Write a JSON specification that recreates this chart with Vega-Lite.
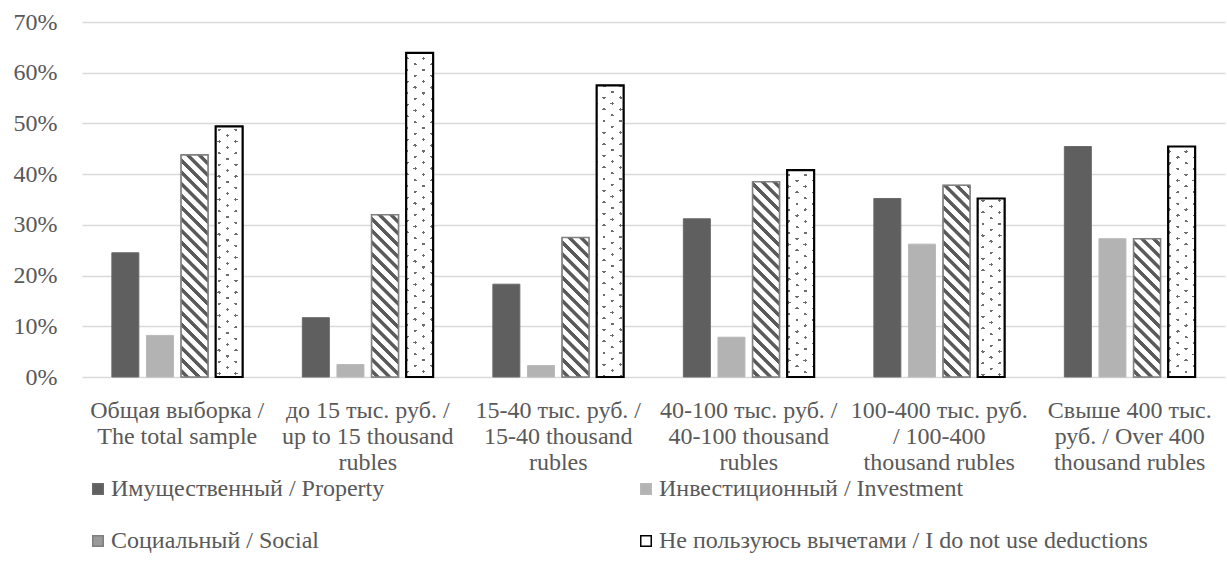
{
  "$schema": "https://vega.github.io/schema/vega-lite/v6.json",
  "width": 1143,
  "height": 355,
  "autosize": {"type": "none"},
  "padding": {"left": 82, "top": 22, "right": 2, "bottom": 204},
  "background": "white",
  "config": {
    "font": "Liberation Serif",
    "view": {"stroke": null},
    "axis": {"labelFont": "Liberation Serif", "labelColor": "#595959", "labelFontSize": 24, "domain": false, "ticks": false},
    "legend": {"labelFont": "Liberation Serif"}
  },
  "params": [
    {"name": "hatchStops", "value": [
      {"offset": 0.01208, "color": "#ffffff"}, {"offset": 0.01508, "color": "#5a5a5a"}, {"offset": 0.02958, "color": "#5a5a5a"}, {"offset": 0.03258, "color": "#ffffff"},
      {"offset": 0.05375, "color": "#ffffff"}, {"offset": 0.05675, "color": "#5a5a5a"}, {"offset": 0.07125, "color": "#5a5a5a"}, {"offset": 0.07425, "color": "#ffffff"},
      {"offset": 0.09542, "color": "#ffffff"}, {"offset": 0.09842, "color": "#5a5a5a"}, {"offset": 0.11292, "color": "#5a5a5a"}, {"offset": 0.11592, "color": "#ffffff"},
      {"offset": 0.13708, "color": "#ffffff"}, {"offset": 0.14008, "color": "#5a5a5a"}, {"offset": 0.15458, "color": "#5a5a5a"}, {"offset": 0.15758, "color": "#ffffff"},
      {"offset": 0.17875, "color": "#ffffff"}, {"offset": 0.18175, "color": "#5a5a5a"}, {"offset": 0.19625, "color": "#5a5a5a"}, {"offset": 0.19925, "color": "#ffffff"},
      {"offset": 0.22042, "color": "#ffffff"}, {"offset": 0.22342, "color": "#5a5a5a"}, {"offset": 0.23792, "color": "#5a5a5a"}, {"offset": 0.24092, "color": "#ffffff"},
      {"offset": 0.26208, "color": "#ffffff"}, {"offset": 0.26508, "color": "#5a5a5a"}, {"offset": 0.27958, "color": "#5a5a5a"}, {"offset": 0.28258, "color": "#ffffff"},
      {"offset": 0.30375, "color": "#ffffff"}, {"offset": 0.30675, "color": "#5a5a5a"}, {"offset": 0.32125, "color": "#5a5a5a"}, {"offset": 0.32425, "color": "#ffffff"},
      {"offset": 0.34542, "color": "#ffffff"}, {"offset": 0.34842, "color": "#5a5a5a"}, {"offset": 0.36292, "color": "#5a5a5a"}, {"offset": 0.36592, "color": "#ffffff"},
      {"offset": 0.38708, "color": "#ffffff"}, {"offset": 0.39008, "color": "#5a5a5a"}, {"offset": 0.40458, "color": "#5a5a5a"}, {"offset": 0.40758, "color": "#ffffff"},
      {"offset": 0.42875, "color": "#ffffff"}, {"offset": 0.43175, "color": "#5a5a5a"}, {"offset": 0.44625, "color": "#5a5a5a"}, {"offset": 0.44925, "color": "#ffffff"},
      {"offset": 0.47042, "color": "#ffffff"}, {"offset": 0.47342, "color": "#5a5a5a"}, {"offset": 0.48792, "color": "#5a5a5a"}, {"offset": 0.49092, "color": "#ffffff"},
      {"offset": 0.51208, "color": "#ffffff"}, {"offset": 0.51508, "color": "#5a5a5a"}, {"offset": 0.52958, "color": "#5a5a5a"}, {"offset": 0.53258, "color": "#ffffff"},
      {"offset": 0.55375, "color": "#ffffff"}, {"offset": 0.55675, "color": "#5a5a5a"}, {"offset": 0.57125, "color": "#5a5a5a"}, {"offset": 0.57425, "color": "#ffffff"},
      {"offset": 0.59542, "color": "#ffffff"}, {"offset": 0.59842, "color": "#5a5a5a"}, {"offset": 0.61292, "color": "#5a5a5a"}, {"offset": 0.61592, "color": "#ffffff"},
      {"offset": 0.63708, "color": "#ffffff"}, {"offset": 0.64008, "color": "#5a5a5a"}, {"offset": 0.65458, "color": "#5a5a5a"}, {"offset": 0.65758, "color": "#ffffff"},
      {"offset": 0.67875, "color": "#ffffff"}, {"offset": 0.68175, "color": "#5a5a5a"}, {"offset": 0.69625, "color": "#5a5a5a"}, {"offset": 0.69925, "color": "#ffffff"},
      {"offset": 0.72042, "color": "#ffffff"}, {"offset": 0.72342, "color": "#5a5a5a"}, {"offset": 0.73792, "color": "#5a5a5a"}, {"offset": 0.74092, "color": "#ffffff"},
      {"offset": 0.76208, "color": "#ffffff"}, {"offset": 0.76508, "color": "#5a5a5a"}, {"offset": 0.77958, "color": "#5a5a5a"}, {"offset": 0.78258, "color": "#ffffff"},
      {"offset": 0.80375, "color": "#ffffff"}, {"offset": 0.80675, "color": "#5a5a5a"}, {"offset": 0.82125, "color": "#5a5a5a"}, {"offset": 0.82425, "color": "#ffffff"},
      {"offset": 0.84542, "color": "#ffffff"}, {"offset": 0.84842, "color": "#5a5a5a"}, {"offset": 0.86292, "color": "#5a5a5a"}, {"offset": 0.86592, "color": "#ffffff"},
      {"offset": 0.88708, "color": "#ffffff"}, {"offset": 0.89008, "color": "#5a5a5a"}, {"offset": 0.90458, "color": "#5a5a5a"}, {"offset": 0.90758, "color": "#ffffff"},
      {"offset": 0.92875, "color": "#ffffff"}, {"offset": 0.93175, "color": "#5a5a5a"}, {"offset": 0.94625, "color": "#5a5a5a"}, {"offset": 0.94925, "color": "#ffffff"},
      {"offset": 0.97042, "color": "#ffffff"}, {"offset": 0.97342, "color": "#5a5a5a"}, {"offset": 0.98792, "color": "#5a5a5a"}, {"offset": 0.99092, "color": "#ffffff"}
    ]},
    {"name": "dotStops", "value": [
      {"offset": 0.0123, "color": "rgba(110,110,110,0)"}, {"offset": 0.0123, "color": "#6e6e6e"}, {"offset": 0.0198, "color": "#6e6e6e"}, {"offset": 0.0198, "color": "rgba(110,110,110,0)"},
      {"offset": 0.0436, "color": "rgba(110,110,110,0)"}, {"offset": 0.0436, "color": "#6e6e6e"}, {"offset": 0.0511, "color": "#6e6e6e"}, {"offset": 0.0511, "color": "rgba(110,110,110,0)"},
      {"offset": 0.0748, "color": "rgba(110,110,110,0)"}, {"offset": 0.0748, "color": "#6e6e6e"}, {"offset": 0.0823, "color": "#6e6e6e"}, {"offset": 0.0823, "color": "rgba(110,110,110,0)"},
      {"offset": 0.1061, "color": "rgba(110,110,110,0)"}, {"offset": 0.1061, "color": "#6e6e6e"}, {"offset": 0.1136, "color": "#6e6e6e"}, {"offset": 0.1136, "color": "rgba(110,110,110,0)"},
      {"offset": 0.1373, "color": "rgba(110,110,110,0)"}, {"offset": 0.1373, "color": "#6e6e6e"}, {"offset": 0.1448, "color": "#6e6e6e"}, {"offset": 0.1448, "color": "rgba(110,110,110,0)"},
      {"offset": 0.1686, "color": "rgba(110,110,110,0)"}, {"offset": 0.1686, "color": "#6e6e6e"}, {"offset": 0.1761, "color": "#6e6e6e"}, {"offset": 0.1761, "color": "rgba(110,110,110,0)"},
      {"offset": 0.1998, "color": "rgba(110,110,110,0)"}, {"offset": 0.1998, "color": "#6e6e6e"}, {"offset": 0.2073, "color": "#6e6e6e"}, {"offset": 0.2073, "color": "rgba(110,110,110,0)"},
      {"offset": 0.2311, "color": "rgba(110,110,110,0)"}, {"offset": 0.2311, "color": "#6e6e6e"}, {"offset": 0.2386, "color": "#6e6e6e"}, {"offset": 0.2386, "color": "rgba(110,110,110,0)"},
      {"offset": 0.2623, "color": "rgba(110,110,110,0)"}, {"offset": 0.2623, "color": "#6e6e6e"}, {"offset": 0.2698, "color": "#6e6e6e"}, {"offset": 0.2698, "color": "rgba(110,110,110,0)"},
      {"offset": 0.2936, "color": "rgba(110,110,110,0)"}, {"offset": 0.2936, "color": "#6e6e6e"}, {"offset": 0.3011, "color": "#6e6e6e"}, {"offset": 0.3011, "color": "rgba(110,110,110,0)"},
      {"offset": 0.3248, "color": "rgba(110,110,110,0)"}, {"offset": 0.3248, "color": "#6e6e6e"}, {"offset": 0.3323, "color": "#6e6e6e"}, {"offset": 0.3323, "color": "rgba(110,110,110,0)"},
      {"offset": 0.3561, "color": "rgba(110,110,110,0)"}, {"offset": 0.3561, "color": "#6e6e6e"}, {"offset": 0.3636, "color": "#6e6e6e"}, {"offset": 0.3636, "color": "rgba(110,110,110,0)"},
      {"offset": 0.3873, "color": "rgba(110,110,110,0)"}, {"offset": 0.3873, "color": "#6e6e6e"}, {"offset": 0.3948, "color": "#6e6e6e"}, {"offset": 0.3948, "color": "rgba(110,110,110,0)"},
      {"offset": 0.4186, "color": "rgba(110,110,110,0)"}, {"offset": 0.4186, "color": "#6e6e6e"}, {"offset": 0.4261, "color": "#6e6e6e"}, {"offset": 0.4261, "color": "rgba(110,110,110,0)"},
      {"offset": 0.4498, "color": "rgba(110,110,110,0)"}, {"offset": 0.4498, "color": "#6e6e6e"}, {"offset": 0.4573, "color": "#6e6e6e"}, {"offset": 0.4573, "color": "rgba(110,110,110,0)"},
      {"offset": 0.4811, "color": "rgba(110,110,110,0)"}, {"offset": 0.4811, "color": "#6e6e6e"}, {"offset": 0.4886, "color": "#6e6e6e"}, {"offset": 0.4886, "color": "rgba(110,110,110,0)"},
      {"offset": 0.5123, "color": "rgba(110,110,110,0)"}, {"offset": 0.5123, "color": "#6e6e6e"}, {"offset": 0.5198, "color": "#6e6e6e"}, {"offset": 0.5198, "color": "rgba(110,110,110,0)"},
      {"offset": 0.5436, "color": "rgba(110,110,110,0)"}, {"offset": 0.5436, "color": "#6e6e6e"}, {"offset": 0.5511, "color": "#6e6e6e"}, {"offset": 0.5511, "color": "rgba(110,110,110,0)"},
      {"offset": 0.5748, "color": "rgba(110,110,110,0)"}, {"offset": 0.5748, "color": "#6e6e6e"}, {"offset": 0.5823, "color": "#6e6e6e"}, {"offset": 0.5823, "color": "rgba(110,110,110,0)"},
      {"offset": 0.6061, "color": "rgba(110,110,110,0)"}, {"offset": 0.6061, "color": "#6e6e6e"}, {"offset": 0.6136, "color": "#6e6e6e"}, {"offset": 0.6136, "color": "rgba(110,110,110,0)"},
      {"offset": 0.6373, "color": "rgba(110,110,110,0)"}, {"offset": 0.6373, "color": "#6e6e6e"}, {"offset": 0.6448, "color": "#6e6e6e"}, {"offset": 0.6448, "color": "rgba(110,110,110,0)"},
      {"offset": 0.6686, "color": "rgba(110,110,110,0)"}, {"offset": 0.6686, "color": "#6e6e6e"}, {"offset": 0.6761, "color": "#6e6e6e"}, {"offset": 0.6761, "color": "rgba(110,110,110,0)"},
      {"offset": 0.6998, "color": "rgba(110,110,110,0)"}, {"offset": 0.6998, "color": "#6e6e6e"}, {"offset": 0.7073, "color": "#6e6e6e"}, {"offset": 0.7073, "color": "rgba(110,110,110,0)"},
      {"offset": 0.7311, "color": "rgba(110,110,110,0)"}, {"offset": 0.7311, "color": "#6e6e6e"}, {"offset": 0.7386, "color": "#6e6e6e"}, {"offset": 0.7386, "color": "rgba(110,110,110,0)"},
      {"offset": 0.7623, "color": "rgba(110,110,110,0)"}, {"offset": 0.7623, "color": "#6e6e6e"}, {"offset": 0.7698, "color": "#6e6e6e"}, {"offset": 0.7698, "color": "rgba(110,110,110,0)"},
      {"offset": 0.7936, "color": "rgba(110,110,110,0)"}, {"offset": 0.7936, "color": "#6e6e6e"}, {"offset": 0.8011, "color": "#6e6e6e"}, {"offset": 0.8011, "color": "rgba(110,110,110,0)"},
      {"offset": 0.8248, "color": "rgba(110,110,110,0)"}, {"offset": 0.8248, "color": "#6e6e6e"}, {"offset": 0.8323, "color": "#6e6e6e"}, {"offset": 0.8323, "color": "rgba(110,110,110,0)"},
      {"offset": 0.8561, "color": "rgba(110,110,110,0)"}, {"offset": 0.8561, "color": "#6e6e6e"}, {"offset": 0.8636, "color": "#6e6e6e"}, {"offset": 0.8636, "color": "rgba(110,110,110,0)"},
      {"offset": 0.8873, "color": "rgba(110,110,110,0)"}, {"offset": 0.8873, "color": "#6e6e6e"}, {"offset": 0.8948, "color": "#6e6e6e"}, {"offset": 0.8948, "color": "rgba(110,110,110,0)"},
      {"offset": 0.9186, "color": "rgba(110,110,110,0)"}, {"offset": 0.9186, "color": "#6e6e6e"}, {"offset": 0.9261, "color": "#6e6e6e"}, {"offset": 0.9261, "color": "rgba(110,110,110,0)"},
      {"offset": 0.9498, "color": "rgba(110,110,110,0)"}, {"offset": 0.9498, "color": "#6e6e6e"}, {"offset": 0.9573, "color": "#6e6e6e"}, {"offset": 0.9573, "color": "rgba(110,110,110,0)"},
      {"offset": 0.9811, "color": "rgba(110,110,110,0)"}, {"offset": 0.9811, "color": "#6e6e6e"}, {"offset": 0.9886, "color": "#6e6e6e"}, {"offset": 0.9886, "color": "rgba(110,110,110,0)"}
    ]},
    {"name": "maskStops", "value": [
      {"offset": 0.0123, "color": "#ffffff"}, {"offset": 0.0123, "color": "rgba(255,255,255,0)"}, {"offset": 0.0198, "color": "rgba(255,255,255,0)"}, {"offset": 0.0198, "color": "#ffffff"},
      {"offset": 0.0436, "color": "#ffffff"}, {"offset": 0.0436, "color": "rgba(255,255,255,0)"}, {"offset": 0.0511, "color": "rgba(255,255,255,0)"}, {"offset": 0.0511, "color": "#ffffff"},
      {"offset": 0.0748, "color": "#ffffff"}, {"offset": 0.0748, "color": "rgba(255,255,255,0)"}, {"offset": 0.0823, "color": "rgba(255,255,255,0)"}, {"offset": 0.0823, "color": "#ffffff"},
      {"offset": 0.1061, "color": "#ffffff"}, {"offset": 0.1061, "color": "rgba(255,255,255,0)"}, {"offset": 0.1136, "color": "rgba(255,255,255,0)"}, {"offset": 0.1136, "color": "#ffffff"},
      {"offset": 0.1373, "color": "#ffffff"}, {"offset": 0.1373, "color": "rgba(255,255,255,0)"}, {"offset": 0.1448, "color": "rgba(255,255,255,0)"}, {"offset": 0.1448, "color": "#ffffff"},
      {"offset": 0.1686, "color": "#ffffff"}, {"offset": 0.1686, "color": "rgba(255,255,255,0)"}, {"offset": 0.1761, "color": "rgba(255,255,255,0)"}, {"offset": 0.1761, "color": "#ffffff"},
      {"offset": 0.1998, "color": "#ffffff"}, {"offset": 0.1998, "color": "rgba(255,255,255,0)"}, {"offset": 0.2073, "color": "rgba(255,255,255,0)"}, {"offset": 0.2073, "color": "#ffffff"},
      {"offset": 0.2311, "color": "#ffffff"}, {"offset": 0.2311, "color": "rgba(255,255,255,0)"}, {"offset": 0.2386, "color": "rgba(255,255,255,0)"}, {"offset": 0.2386, "color": "#ffffff"},
      {"offset": 0.2623, "color": "#ffffff"}, {"offset": 0.2623, "color": "rgba(255,255,255,0)"}, {"offset": 0.2698, "color": "rgba(255,255,255,0)"}, {"offset": 0.2698, "color": "#ffffff"},
      {"offset": 0.2936, "color": "#ffffff"}, {"offset": 0.2936, "color": "rgba(255,255,255,0)"}, {"offset": 0.3011, "color": "rgba(255,255,255,0)"}, {"offset": 0.3011, "color": "#ffffff"},
      {"offset": 0.3248, "color": "#ffffff"}, {"offset": 0.3248, "color": "rgba(255,255,255,0)"}, {"offset": 0.3323, "color": "rgba(255,255,255,0)"}, {"offset": 0.3323, "color": "#ffffff"},
      {"offset": 0.3561, "color": "#ffffff"}, {"offset": 0.3561, "color": "rgba(255,255,255,0)"}, {"offset": 0.3636, "color": "rgba(255,255,255,0)"}, {"offset": 0.3636, "color": "#ffffff"},
      {"offset": 0.3873, "color": "#ffffff"}, {"offset": 0.3873, "color": "rgba(255,255,255,0)"}, {"offset": 0.3948, "color": "rgba(255,255,255,0)"}, {"offset": 0.3948, "color": "#ffffff"},
      {"offset": 0.4186, "color": "#ffffff"}, {"offset": 0.4186, "color": "rgba(255,255,255,0)"}, {"offset": 0.4261, "color": "rgba(255,255,255,0)"}, {"offset": 0.4261, "color": "#ffffff"},
      {"offset": 0.4498, "color": "#ffffff"}, {"offset": 0.4498, "color": "rgba(255,255,255,0)"}, {"offset": 0.4573, "color": "rgba(255,255,255,0)"}, {"offset": 0.4573, "color": "#ffffff"},
      {"offset": 0.4811, "color": "#ffffff"}, {"offset": 0.4811, "color": "rgba(255,255,255,0)"}, {"offset": 0.4886, "color": "rgba(255,255,255,0)"}, {"offset": 0.4886, "color": "#ffffff"},
      {"offset": 0.5123, "color": "#ffffff"}, {"offset": 0.5123, "color": "rgba(255,255,255,0)"}, {"offset": 0.5198, "color": "rgba(255,255,255,0)"}, {"offset": 0.5198, "color": "#ffffff"},
      {"offset": 0.5436, "color": "#ffffff"}, {"offset": 0.5436, "color": "rgba(255,255,255,0)"}, {"offset": 0.5511, "color": "rgba(255,255,255,0)"}, {"offset": 0.5511, "color": "#ffffff"},
      {"offset": 0.5748, "color": "#ffffff"}, {"offset": 0.5748, "color": "rgba(255,255,255,0)"}, {"offset": 0.5823, "color": "rgba(255,255,255,0)"}, {"offset": 0.5823, "color": "#ffffff"},
      {"offset": 0.6061, "color": "#ffffff"}, {"offset": 0.6061, "color": "rgba(255,255,255,0)"}, {"offset": 0.6136, "color": "rgba(255,255,255,0)"}, {"offset": 0.6136, "color": "#ffffff"},
      {"offset": 0.6373, "color": "#ffffff"}, {"offset": 0.6373, "color": "rgba(255,255,255,0)"}, {"offset": 0.6448, "color": "rgba(255,255,255,0)"}, {"offset": 0.6448, "color": "#ffffff"},
      {"offset": 0.6686, "color": "#ffffff"}, {"offset": 0.6686, "color": "rgba(255,255,255,0)"}, {"offset": 0.6761, "color": "rgba(255,255,255,0)"}, {"offset": 0.6761, "color": "#ffffff"},
      {"offset": 0.6998, "color": "#ffffff"}, {"offset": 0.6998, "color": "rgba(255,255,255,0)"}, {"offset": 0.7073, "color": "rgba(255,255,255,0)"}, {"offset": 0.7073, "color": "#ffffff"},
      {"offset": 0.7311, "color": "#ffffff"}, {"offset": 0.7311, "color": "rgba(255,255,255,0)"}, {"offset": 0.7386, "color": "rgba(255,255,255,0)"}, {"offset": 0.7386, "color": "#ffffff"},
      {"offset": 0.7623, "color": "#ffffff"}, {"offset": 0.7623, "color": "rgba(255,255,255,0)"}, {"offset": 0.7698, "color": "rgba(255,255,255,0)"}, {"offset": 0.7698, "color": "#ffffff"},
      {"offset": 0.7936, "color": "#ffffff"}, {"offset": 0.7936, "color": "rgba(255,255,255,0)"}, {"offset": 0.8011, "color": "rgba(255,255,255,0)"}, {"offset": 0.8011, "color": "#ffffff"},
      {"offset": 0.8248, "color": "#ffffff"}, {"offset": 0.8248, "color": "rgba(255,255,255,0)"}, {"offset": 0.8323, "color": "rgba(255,255,255,0)"}, {"offset": 0.8323, "color": "#ffffff"},
      {"offset": 0.8561, "color": "#ffffff"}, {"offset": 0.8561, "color": "rgba(255,255,255,0)"}, {"offset": 0.8636, "color": "rgba(255,255,255,0)"}, {"offset": 0.8636, "color": "#ffffff"},
      {"offset": 0.8873, "color": "#ffffff"}, {"offset": 0.8873, "color": "rgba(255,255,255,0)"}, {"offset": 0.8948, "color": "rgba(255,255,255,0)"}, {"offset": 0.8948, "color": "#ffffff"},
      {"offset": 0.9186, "color": "#ffffff"}, {"offset": 0.9186, "color": "rgba(255,255,255,0)"}, {"offset": 0.9261, "color": "rgba(255,255,255,0)"}, {"offset": 0.9261, "color": "#ffffff"},
      {"offset": 0.9498, "color": "#ffffff"}, {"offset": 0.9498, "color": "rgba(255,255,255,0)"}, {"offset": 0.9573, "color": "rgba(255,255,255,0)"}, {"offset": 0.9573, "color": "#ffffff"},
      {"offset": 0.9811, "color": "#ffffff"}, {"offset": 0.9811, "color": "rgba(255,255,255,0)"}, {"offset": 0.9886, "color": "rgba(255,255,255,0)"}, {"offset": 0.9886, "color": "#ffffff"}
    ]}
  ],
  "data": {"values": [
    {"group": "Общая выборка / The total sample", "series": "Имущественный / Property", "share": 0.245},
    {"group": "Общая выборка / The total sample", "series": "Инвестиционный / Investment", "share": 0.082},
    {"group": "Общая выборка / The total sample", "series": "Социальный / Social", "share": 0.438},
    {"group": "Общая выборка / The total sample", "series": "Не пользуюсь вычетами / I do not use deductions", "share": 0.494},
    {"group": "до 15 тыс. руб. / up to 15 thousand rubles", "series": "Имущественный / Property", "share": 0.117},
    {"group": "до 15 тыс. руб. / up to 15 thousand rubles", "series": "Инвестиционный / Investment", "share": 0.0245},
    {"group": "до 15 тыс. руб. / up to 15 thousand rubles", "series": "Социальный / Social", "share": 0.32},
    {"group": "до 15 тыс. руб. / up to 15 thousand rubles", "series": "Не пользуюсь вычетами / I do not use deductions", "share": 0.639},
    {"group": "15-40 тыс. руб. / 15-40 thousand rubles", "series": "Имущественный / Property", "share": 0.183},
    {"group": "15-40 тыс. руб. / 15-40 thousand rubles", "series": "Инвестиционный / Investment", "share": 0.0225},
    {"group": "15-40 тыс. руб. / 15-40 thousand rubles", "series": "Социальный / Social", "share": 0.275},
    {"group": "15-40 тыс. руб. / 15-40 thousand rubles", "series": "Не пользуюсь вычетами / I do not use deductions", "share": 0.575},
    {"group": "40-100 тыс. руб. / 40-100 thousand rubles", "series": "Имущественный / Property", "share": 0.312},
    {"group": "40-100 тыс. руб. / 40-100 thousand rubles", "series": "Инвестиционный / Investment", "share": 0.0785},
    {"group": "40-100 тыс. руб. / 40-100 thousand rubles", "series": "Социальный / Social", "share": 0.385},
    {"group": "40-100 тыс. руб. / 40-100 thousand rubles", "series": "Не пользуюсь вычетами / I do not use deductions", "share": 0.408},
    {"group": "100-400 тыс. руб. / 100-400 thousand rubles", "series": "Имущественный / Property", "share": 0.352},
    {"group": "100-400 тыс. руб. / 100-400 thousand rubles", "series": "Инвестиционный / Investment", "share": 0.262},
    {"group": "100-400 тыс. руб. / 100-400 thousand rubles", "series": "Социальный / Social", "share": 0.378},
    {"group": "100-400 тыс. руб. / 100-400 thousand rubles", "series": "Не пользуюсь вычетами / I do not use deductions", "share": 0.352},
    {"group": "Свыше 400 тыс. руб. / Over 400 thousand rubles", "series": "Имущественный / Property", "share": 0.4545},
    {"group": "Свыше 400 тыс. руб. / Over 400 thousand rubles", "series": "Инвестиционный / Investment", "share": 0.2727},
    {"group": "Свыше 400 тыс. руб. / Over 400 thousand rubles", "series": "Социальный / Social", "share": 0.2727},
    {"group": "Свыше 400 тыс. руб. / Over 400 thousand rubles", "series": "Не пользуюсь вычетами / I do not use deductions", "share": 0.4545}
  ]},
  "encoding": {
    "x": {
      "field": "group", "type": "nominal", "title": null,
      "scale": {"domain": ["Общая выборка / The total sample", "до 15 тыс. руб. / up to 15 thousand rubles", "15-40 тыс. руб. / 15-40 thousand rubles", "40-100 тыс. руб. / 40-100 thousand rubles", "100-400 тыс. руб. / 100-400 thousand rubles", "Свыше 400 тыс. руб. / Over 400 thousand rubles"], "paddingInner": 0, "paddingOuter": 0},
      "axis": {
        "labelAngle": 0, "labelPadding": 21, "labelLineHeight": 26, "labelLimit": 400, "labelBaseline": "top", "labelFont": "Liberation Serif",
        "labelExpr": "datum.value == 'Общая выборка / The total sample' ? ['Общая выборка /', 'The total sample'] : datum.value == 'до 15 тыс. руб. / up to 15 thousand rubles' ? ['до 15 тыс. руб. /', 'up to 15 thousand', 'rubles'] : datum.value == '15-40 тыс. руб. / 15-40 thousand rubles' ? ['15-40 тыс. руб. /', '15-40 thousand', 'rubles'] : datum.value == '40-100 тыс. руб. / 40-100 thousand rubles' ? ['40-100 тыс. руб. /', '40-100 thousand', 'rubles'] : datum.value == '100-400 тыс. руб. / 100-400 thousand rubles' ? ['100-400 тыс. руб.', '/ 100-400', 'thousand rubles'] : ['Свыше 400 тыс.', 'руб. / Over 400', 'thousand rubles']"
      }
    },
    "xOffset": {
      "field": "series", "type": "nominal",
      "scale": {"domain": ["Имущественный / Property", "Инвестиционный / Investment", "Социальный / Social", "Не пользуюсь вычетами / I do not use deductions"], "paddingInner": 0.22, "paddingOuter": 0.863}
    },
    "y": {
      "field": "share", "type": "quantitative", "title": null,
      "scale": {"domain": [0, 0.7]},
      "axis": {"values": [0, 0.1, 0.2, 0.3, 0.4, 0.5, 0.6, 0.7], "format": ".0%", "labelPadding": 25, "labelFont": "Liberation Serif", "grid": true, "gridColor": "#d9d9d9", "gridWidth": 1.3}
    }
  },
  "layer": [
    {
      "mark": {"type": "bar", "strokeWidth": 1},
      "encoding": {
        "color": {
          "field": "series", "type": "nominal",
          "scale": {"domain": ["Имущественный / Property", "Инвестиционный / Investment", "Социальный / Social", "Не пользуюсь вычетами / I do not use deductions"], "range": ["#5f5f5f", "#b3b3b3", "#9a9a9a", "#ffffff"]},
          "legend": {
            "title": null, "orient": "bottom", "columns": 2, "symbolType": "square", "symbolSize": 110,
            "labelFont": "Liberation Serif", "labelFontSize": 24, "labelColor": "#595959", "labelLimit": 800, "columnPadding": 249, "rowPadding": 28, "offset": -1, "padding": 4, "labelOffset": 1, "symbolStrokeWidth": 1.5
          }
        },
        "stroke": {
          "field": "series", "type": "nominal",
          "scale": {"domain": ["Имущественный / Property", "Инвестиционный / Investment", "Социальный / Social", "Не пользуюсь вычетами / I do not use deductions"], "range": ["#6a6a6a", "#b8b8b8", "#7f7f7f", "#000000"]}
        }
      }
    },
    {
      "transform": [{"filter": "datum.series == 'Социальный / Social'"}],
      "mark": {"type": "bar", "strokeWidth": 0, "fill": {"expr": "{gradient: 'linear', x1: 0, y1: 1, x2: bandwidth('xOffset')*280.8/(pow(bandwidth('xOffset'),2)+pow(scale('y',0)-scale('y',datum.share),2)), y2: 1-(scale('y',0)-scale('y',datum.share))*280.8/(pow(bandwidth('xOffset'),2)+pow(scale('y',0)-scale('y',datum.share),2)), stops: hatchStops}"}}
    },
    {
      "transform": [{"filter": "datum.series == 'Не пользуюсь вычетами / I do not use deductions'"}],
      "mark": {"type": "bar", "strokeWidth": 0, "fill": {"expr": "{gradient: 'linear', x1: 0, y1: 0, x2: 7.71085*bandwidth('xOffset')/(0.0145159*pow(bandwidth('xOffset'),2)+0.0297265*pow(scale('y',0)-scale('y',datum.share),2)), y2: 11.0345*(scale('y',0)-scale('y',datum.share))/(0.0145159*pow(bandwidth('xOffset'),2)+0.0297265*pow(scale('y',0)-scale('y',datum.share),2)), stops: dotStops}"}}
    },
    {
      "transform": [{"filter": "datum.series == 'Не пользуюсь вычетами / I do not use deductions'"}],
      "mark": {"type": "bar", "strokeWidth": 0, "fill": {"expr": "{gradient: 'linear', x1: 0, y1: 1, x2: 7.71085*bandwidth('xOffset')/(0.0145159*pow(bandwidth('xOffset'),2)+0.0297265*pow(scale('y',0)-scale('y',datum.share),2)), y2: 1-11.0345*(scale('y',0)-scale('y',datum.share))/(0.0145159*pow(bandwidth('xOffset'),2)+0.0297265*pow(scale('y',0)-scale('y',datum.share),2)), stops: maskStops}"}}
    },
    {
      "transform": [{"filter": "datum.series == 'Социальный / Social' || datum.series == 'Не пользуюсь вычетами / I do not use deductions'"}],
      "mark": {"type": "bar", "fill": "#ffffff", "fillOpacity": 0},
      "encoding": {
        "stroke": {"condition": {"test": "datum.series == 'Социальный / Social'", "value": "#808080"}, "value": "#000000"},
        "strokeWidth": {"condition": {"test": "datum.series == 'Социальный / Social'", "value": 1.6}, "value": 2.2}
      }
    }
  ]
}
